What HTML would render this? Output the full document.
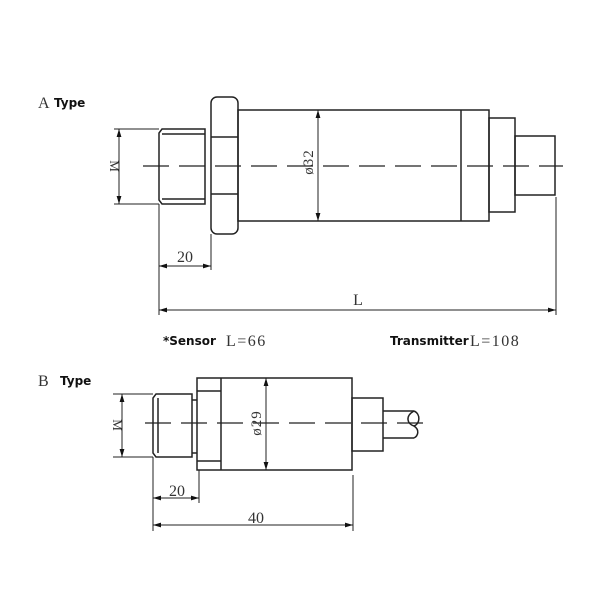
<!DOCTYPE html>
<html><head><meta charset="utf-8"><style>
html,body{margin:0;padding:0;background:#fff;width:600px;height:600px;overflow:hidden}
svg{display:block}
.s{font-family:"Liberation Serif","Noto Serif CJK SC",serif;fill:#333}
.b{font-family:"DejaVu Sans","Liberation Sans",sans-serif;font-weight:bold;fill:#111}
</style></head><body>
<svg width="600" height="600" viewBox="0 0 600 600" xmlns="http://www.w3.org/2000/svg">
<defs>
<marker id="ar" viewBox="0 0 10 6" refX="10" refY="3" markerWidth="8" markerHeight="5" orient="auto-start-reverse" markerUnits="userSpaceOnUse"><path d="M0,0 L10,3 L0,6 z" fill="#111"/></marker>
</defs>
<g fill="none" stroke="#222" stroke-width="1.5">
<path d="M205,129 H162 L159,133 V200 L162,204 H205 Z"/>
<line x1="162" y1="134" x2="205" y2="134"/><line x1="162" y1="199" x2="205" y2="199"/>
<rect x="211" y="97" width="27" height="137" rx="6"/>
<line x1="211" y1="137" x2="238" y2="137"/><line x1="211" y1="194" x2="238" y2="194"/>
<rect x="238" y="110" width="251" height="111"/>
<line x1="461" y1="110" x2="461" y2="221"/>
<rect x="489" y="118" width="26" height="94"/>
<rect x="515" y="136" width="40" height="59"/>
<line x1="143" y1="166" x2="563" y2="166" stroke-dasharray="26,10" stroke-width="1.2"/>
<line x1="114" y1="129" x2="159" y2="129" stroke-width="1"/><line x1="114" y1="204" x2="159" y2="204" stroke-width="1"/>
<line x1="119" y1="129" x2="119" y2="204" stroke-width="1" marker-start="url(#ar)" marker-end="url(#ar)"/>
<line x1="318" y1="110" x2="318" y2="221" stroke-width="1" marker-start="url(#ar)" marker-end="url(#ar)"/>
<line x1="159" y1="204" x2="159" y2="315" stroke-width="1"/>
<line x1="211" y1="234" x2="211" y2="270" stroke-width="1"/>
<line x1="159" y1="266" x2="211" y2="266" stroke-width="1" marker-start="url(#ar)" marker-end="url(#ar)"/>
<line x1="556" y1="197" x2="556" y2="315" stroke-width="1"/>
<line x1="159" y1="310" x2="556" y2="310" stroke-width="1" marker-start="url(#ar)" marker-end="url(#ar)"/>
<path d="M192,394 H156 L153,398 V453 L156,457 H192 Z"/>
<line x1="158" y1="398" x2="158" y2="453"/>
<line x1="192" y1="400" x2="197" y2="400"/><line x1="192" y1="453" x2="197" y2="453"/>
<rect x="197" y="378" width="155" height="92"/>
<line x1="221" y1="378" x2="221" y2="470"/>
<line x1="197" y1="391" x2="221" y2="391"/><line x1="197" y1="461" x2="221" y2="461"/>
<rect x="352" y="398" width="31" height="53"/>
<path d="M383,411 H414 M383,438 H414"/>
<path d="M414,411 C405,416 407,424 414,426 C420,424 421,414 414,411 M414,426 C420,430 418,436 414,438"/>
<line x1="145" y1="423" x2="432" y2="423" stroke-dasharray="26,10" stroke-width="1.2"/>
<line x1="113" y1="394" x2="153" y2="394" stroke-width="1"/><line x1="113" y1="457" x2="153" y2="457" stroke-width="1"/>
<line x1="122" y1="394" x2="122" y2="457" stroke-width="1" marker-start="url(#ar)" marker-end="url(#ar)"/>
<line x1="266" y1="378" x2="266" y2="470" stroke-width="1" marker-start="url(#ar)" marker-end="url(#ar)"/>
<line x1="153" y1="457" x2="153" y2="531" stroke-width="1"/>
<line x1="199" y1="470" x2="199" y2="503" stroke-width="1"/>
<line x1="153" y1="498" x2="199" y2="498" stroke-width="1" marker-start="url(#ar)" marker-end="url(#ar)"/>
<line x1="353" y1="475" x2="353" y2="531" stroke-width="1"/>
<line x1="153" y1="525" x2="353" y2="525" stroke-width="1" marker-start="url(#ar)" marker-end="url(#ar)"/>
</g>
<text x="38" y="108" class="s" font-size="16">A</text><text x="54" y="107" class="b" font-size="12">Type</text>
<text x="38" y="386" class="s" font-size="16">B</text><text x="60" y="385" class="b" font-size="12">Type</text>
<text class="s" font-size="13" transform="translate(110,166) rotate(90)" text-anchor="middle">M</text>
<text class="s" font-size="15" letter-spacing="1" transform="translate(313,162) rotate(-90)" text-anchor="middle">ø32</text>
<text x="185" y="262" class="s" font-size="16" text-anchor="middle">20</text>
<text x="358" y="305" class="s" font-size="16" text-anchor="middle">L</text>
<text x="163" y="345" class="b" font-size="12">*Sensor</text><text x="226" y="346" class="s" font-size="16" letter-spacing="1.5">L=66</text>
<text x="390" y="345" class="b" font-size="12">Transmitter</text><text x="470" y="346" class="s" font-size="16" letter-spacing="1.5">L=108</text>
<text class="s" font-size="13" transform="translate(113,425) rotate(90)" text-anchor="middle">M</text>
<text class="s" font-size="15" letter-spacing="1" transform="translate(261,423) rotate(-90)" text-anchor="middle">ø29</text>
<text x="177" y="496" class="s" font-size="16" text-anchor="middle">20</text>
<text x="256" y="523" class="s" font-size="16" text-anchor="middle">40</text>
</svg>
</body></html>
